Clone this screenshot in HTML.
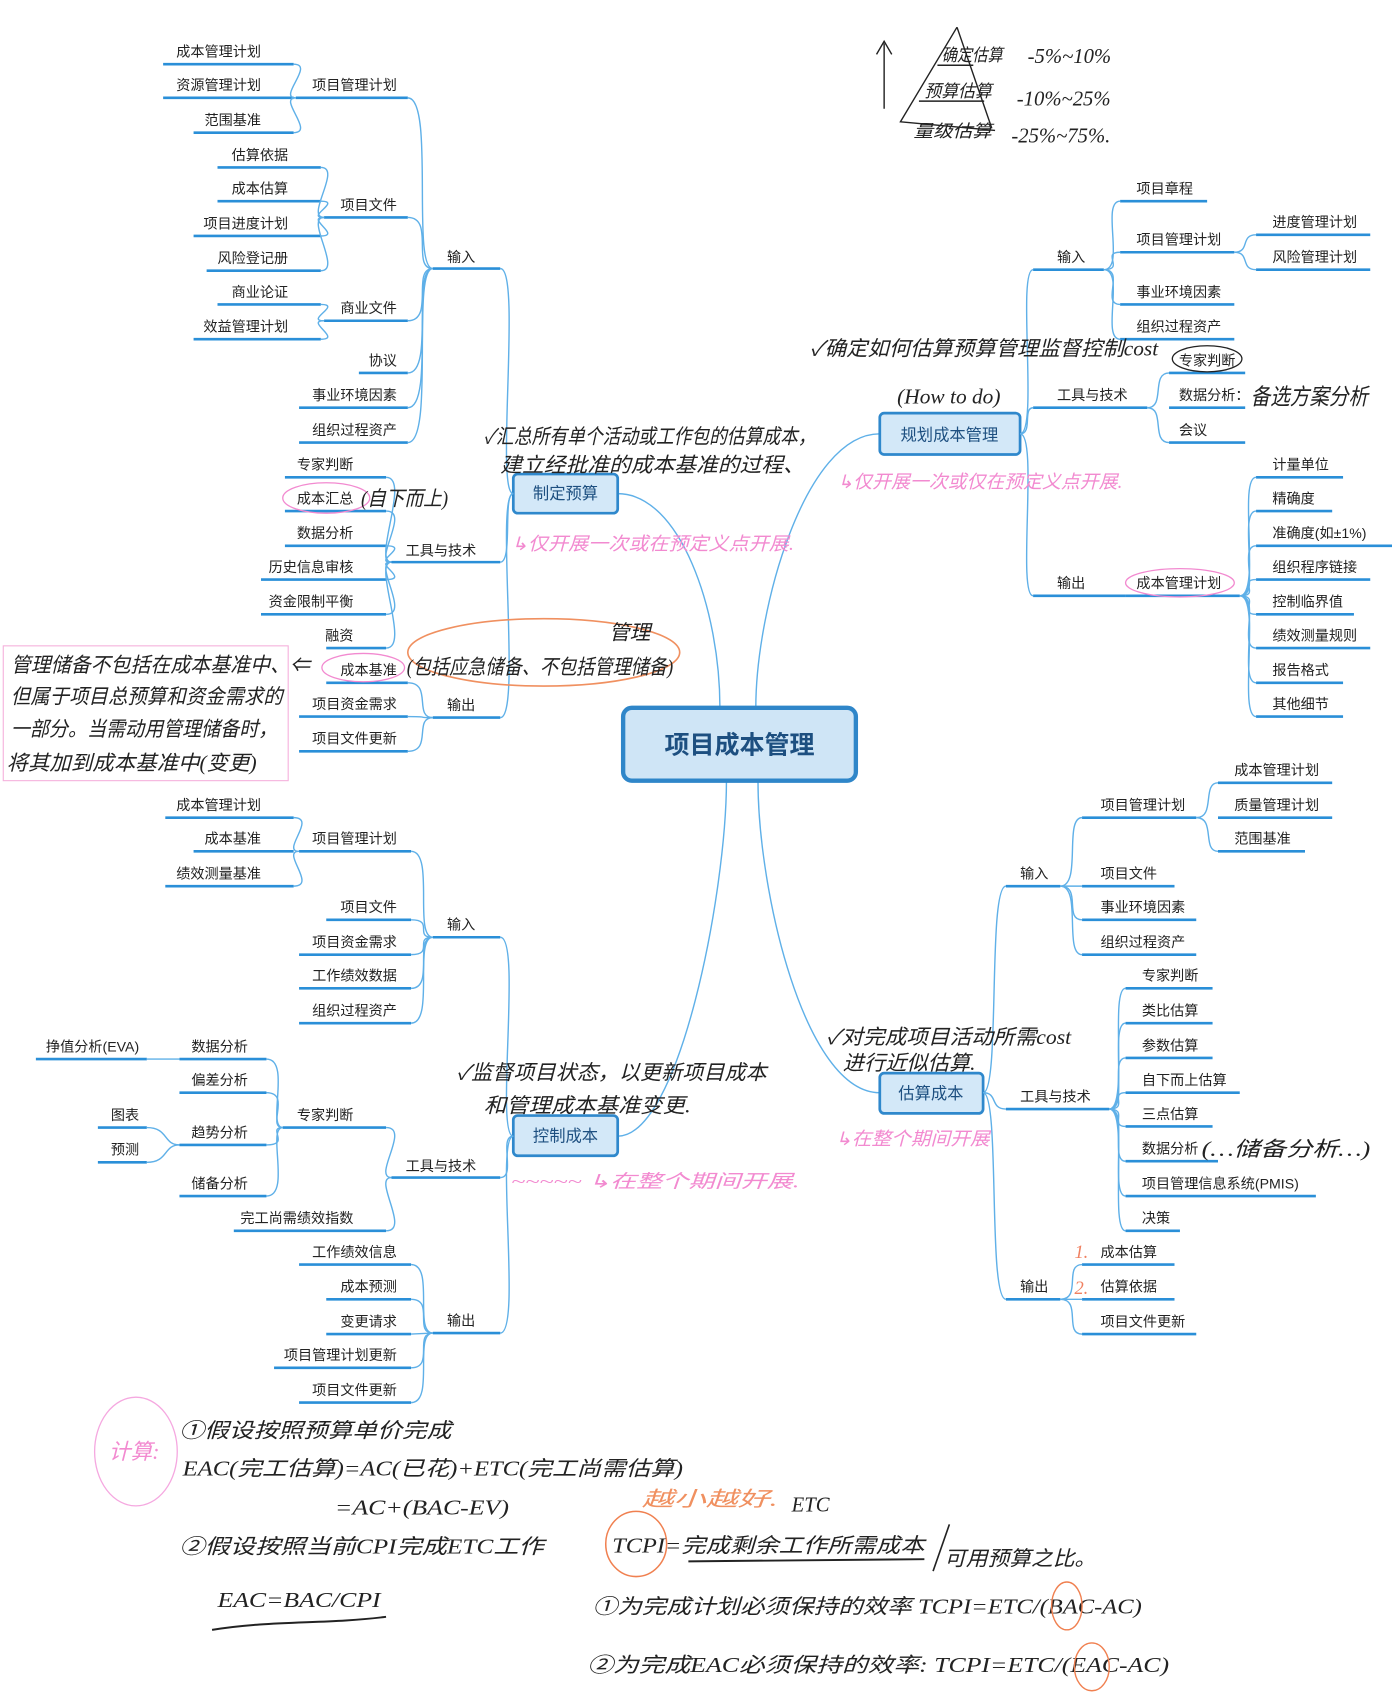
<!DOCTYPE html>
<html><head><meta charset="utf-8">
<style>
html,body{margin:0;padding:0;background:#fff;}
svg{display:block}
.t{font-family:"Liberation Sans","Noto Sans CJK SC",sans-serif;font-size:13px;fill:#222}
.e{text-anchor:end}
.u{stroke:#2a8fd8;stroke-width:2.4;fill:none}
.c{stroke:#5fb0e8;stroke-width:1.3;fill:none}
.h{font-family:"Liberation Serif","WenQuanYi Zen Hei",serif;font-size:19px;fill:#222;font-style:italic}
.p{font-family:"Liberation Serif","WenQuanYi Zen Hei",serif;font-size:17px;fill:#f28ad0;font-style:italic}
.nb{fill:#d3e8f8;stroke:#2f88cc;stroke-width:2.5}
.nt{font-family:"Liberation Sans","Noto Sans CJK SC",sans-serif;font-size:15px;fill:#1d4f80;text-anchor:middle}
</style></head><body>
<svg width="1392" height="1694" viewBox="0 0 1280 1558" preserveAspectRatio="none" xmlns="http://www.w3.org/2000/svg">
<rect width="1280" height="1558" fill="#fff"/>

<!-- ========== center ========== -->
<path class="c" d="M568,454 C625,454 662,560 662,651"/>
<path class="c" d="M809,399 C740,399 695,560 695,651"/>
<path class="c" d="M568,1045 C625,1045 668,820 668,718"/>
<path class="c" d="M809,1005 C740,1005 697,820 697,718"/>
<rect x="573" y="651" width="214" height="67" rx="8" fill="#cfe5f6" stroke="#2f86c9" stroke-width="4"/>
<text x="680" y="693" style="font-family:'Liberation Sans','Noto Sans CJK SC',sans-serif;font-size:23px;font-weight:bold;fill:#1d4f80;text-anchor:middle">项目成本管理</text>

<!-- ========== 制定预算 (top-left) ========== -->
<rect class="nb" x="472" y="436" width="96" height="36" rx="4"/>
<text class="nt" x="520" y="459">制定预算</text>
<path class="c" d="M460,247 C480,247 455,454 472,454"/>
<path class="c" d="M460,517 C472,517 462,454 472,454"/>
<path class="c" d="M460,660 C480,660 455,454 472,454"/>
<text class="t" x="411" y="241">输入</text><line class="u" x1="398" y1="247" x2="460" y2="247"/>
<text class="t" x="373" y="511">工具与技术</text><line class="u" x1="360" y1="517" x2="460" y2="517"/>
<text class="t" x="411" y="653">输出</text><line class="u" x1="398" y1="660" x2="460" y2="660"/>
<text class="t e" x="365" y="83">项目管理计划</text><line class="u" x1="272" y1="90" x2="375" y2="90"/>
<text class="t e" x="365" y="193">项目文件</text><line class="u" x1="298" y1="200" x2="375" y2="200"/>
<text class="t e" x="365" y="288">商业文件</text><line class="u" x1="298" y1="295" x2="375" y2="295"/>
<text class="t e" x="365" y="336">协议</text><line class="u" x1="330" y1="343" x2="375" y2="343"/>
<text class="t e" x="365" y="368">事业环境因素</text><line class="u" x1="275" y1="375" x2="375" y2="375"/>
<text class="t e" x="365" y="400">组织过程资产</text><line class="u" x1="275" y1="407" x2="375" y2="407"/>
<path class="c" d="M375,90 C400,90 378,247 398,247"/>
<path class="c" d="M375,200 C400,200 378,247 398,247"/>
<path class="c" d="M375,295 C400,295 378,247 398,247"/>
<path class="c" d="M375,343 C400,343 378,247 398,247"/>
<path class="c" d="M375,375 C400,375 378,247 398,247"/>
<path class="c" d="M375,407 C400,407 378,247 398,247"/>
<text class="t e" x="240" y="52">成本管理计划</text><line class="u" x1="150" y1="59" x2="270" y2="59"/>
<text class="t e" x="240" y="83">资源管理计划</text><line class="u" x1="150" y1="90" x2="270" y2="90"/>
<text class="t e" x="240" y="115">范围基准</text><line class="u" x1="178" y1="122" x2="270" y2="122"/>
<path class="c" d="M270,59 C290,59 255,90 272,90"/><path class="c" d="M270,122 C290,122 255,90 272,90"/>
<text class="t e" x="265" y="147">估算依据</text><line class="u" x1="200" y1="154" x2="295" y2="154"/>
<text class="t e" x="265" y="178">成本估算</text><line class="u" x1="200" y1="185" x2="295" y2="185"/>
<text class="t e" x="265" y="210">项目进度计划</text><line class="u" x1="178" y1="217" x2="295" y2="217"/>
<text class="t e" x="265" y="242">风险登记册</text><line class="u" x1="190" y1="249" x2="295" y2="249"/>
<path class="c" d="M295,154 C315,154 280,200 298,200"/><path class="c" d="M295,185 C315,185 280,200 298,200"/>
<path class="c" d="M295,217 C315,217 280,200 298,200"/><path class="c" d="M295,249 C315,249 280,200 298,200"/>
<text class="t e" x="265" y="273">商业论证</text><line class="u" x1="200" y1="280" x2="295" y2="280"/>
<text class="t e" x="265" y="305">效益管理计划</text><line class="u" x1="178" y1="312" x2="295" y2="312"/>
<path class="c" d="M295,280 C315,280 280,295 298,295"/><path class="c" d="M295,312 C315,312 280,295 298,295"/>
<text class="t e" x="325" y="432">专家判断</text><line class="u" x1="262" y1="439" x2="355" y2="439"/>
<text class="t e" x="325" y="463">成本汇总</text><line class="u" x1="262" y1="470" x2="355" y2="470"/>
<text class="t e" x="325" y="495">数据分析</text><line class="u" x1="262" y1="502" x2="355" y2="502"/>
<text class="t e" x="325" y="526">历史信息审核</text><line class="u" x1="240" y1="533" x2="355" y2="533"/>
<text class="t e" x="325" y="558">资金限制平衡</text><line class="u" x1="240" y1="565" x2="355" y2="565"/>
<text class="t e" x="325" y="589">融资</text><line class="u" x1="300" y1="596" x2="355" y2="596"/>
<path class="c" d="M355,439 C378,439 342,517 360,517"/><path class="c" d="M355,470 C378,470 342,517 360,517"/>
<path class="c" d="M355,502 C378,502 342,517 360,517"/><path class="c" d="M355,533 C378,533 342,517 360,517"/>
<path class="c" d="M355,565 C378,565 342,517 360,517"/><path class="c" d="M355,596 C378,596 342,517 360,517"/>
<ellipse cx="300" cy="458" rx="40" ry="14" fill="none" stroke="#f28ad0" stroke-width="1.2"/>
<text class="h" x="332" y="465" textLength="80" lengthAdjust="spacingAndGlyphs">(自下而上)</text>
<text class="t e" x="365" y="621">成本基准</text><line class="u" x1="300" y1="628" x2="375" y2="628"/>
<text class="t e" x="365" y="652">项目资金需求</text><line class="u" x1="275" y1="659" x2="375" y2="659"/>
<text class="t e" x="365" y="684">项目文件更新</text><line class="u" x1="275" y1="691" x2="375" y2="691"/>
<path class="c" d="M375,628 C398,628 380,660 398,660"/><path class="c" d="M375,659 C398,659 380,660 398,660"/><path class="c" d="M375,691 C398,691 380,660 398,660"/>
<ellipse cx="334" cy="614" rx="38" ry="13" fill="none" stroke="#f28ad0" stroke-width="1.2"/>
<ellipse cx="500" cy="600" rx="125" ry="31" fill="none" stroke="#f09060" stroke-width="1.5"/>
<text class="h" x="374" y="620" textLength="245" lengthAdjust="spacingAndGlyphs">(包括应急储备、不包括管理储备)</text>
<text class="h" x="560" y="588">管理</text>
<rect x="3" y="594" width="262" height="124" fill="none" stroke="#f5b0dc" stroke-width="1"/>
<text class="h" x="10" y="618" textLength="275" lengthAdjust="spacingAndGlyphs">管理储备不包括在成本基准中、⇐</text>
<text class="h" x="10" y="647" textLength="250" lengthAdjust="spacingAndGlyphs">但属于项目总预算和资金需求的</text>
<text class="h" x="10" y="677" textLength="245" lengthAdjust="spacingAndGlyphs">一部分。当需动用管理储备时，</text>
<text class="h" x="6" y="708" textLength="230" lengthAdjust="spacingAndGlyphs">将其加到成本基准中(变更)</text>
<text class="h" x="445" y="408" textLength="305" lengthAdjust="spacingAndGlyphs">✓汇总所有单个活动或工作包的估算成本，</text>
<text class="h" x="460" y="434" textLength="280" lengthAdjust="spacingAndGlyphs">建立经批准的成本基准的过程、</text>
<text class="p" x="470" y="506" textLength="260" lengthAdjust="spacingAndGlyphs">↳仅开展一次或在预定义点开展.</text>

<!-- ========== 控制成本 (bottom-left) ========== -->
<rect class="nb" x="472" y="1026" width="96" height="37" rx="4"/>
<text class="nt" x="520" y="1050">控制成本</text>
<path class="c" d="M460,862 C480,862 455,1045 472,1045"/>
<path class="c" d="M460,1083 C475,1083 458,1045 472,1045"/>
<path class="c" d="M460,1226 C480,1226 455,1045 472,1045"/>
<text class="t" x="411" y="855">输入</text><line class="u" x1="398" y1="862" x2="460" y2="862"/>
<text class="t" x="373" y="1077">工具与技术</text><line class="u" x1="360" y1="1083" x2="460" y2="1083"/>
<text class="t" x="411" y="1219">输出</text><line class="u" x1="398" y1="1226" x2="460" y2="1226"/>
<text class="t e" x="365" y="776">项目管理计划</text><line class="u" x1="275" y1="783" x2="378" y2="783"/>
<text class="t e" x="365" y="839">项目文件</text><line class="u" x1="300" y1="846" x2="378" y2="846"/>
<text class="t e" x="365" y="871">项目资金需求</text><line class="u" x1="275" y1="878" x2="378" y2="878"/>
<text class="t e" x="365" y="902">工作绩效数据</text><line class="u" x1="275" y1="909" x2="378" y2="909"/>
<text class="t e" x="365" y="934">组织过程资产</text><line class="u" x1="275" y1="941" x2="378" y2="941"/>
<path class="c" d="M378,783 C400,783 380,862 398,862"/><path class="c" d="M378,846 C400,846 380,862 398,862"/>
<path class="c" d="M378,878 C400,878 380,862 398,862"/><path class="c" d="M378,909 C400,909 380,862 398,862"/>
<path class="c" d="M378,941 C400,941 380,862 398,862"/>
<text class="t e" x="240" y="745">成本管理计划</text><line class="u" x1="152" y1="752" x2="270" y2="752"/>
<text class="t e" x="240" y="776">成本基准</text><line class="u" x1="178" y1="783" x2="270" y2="783"/>
<text class="t e" x="240" y="808">绩效测量基准</text><line class="u" x1="152" y1="815" x2="270" y2="815"/>
<path class="c" d="M270,752 C292,752 258,783 275,783"/><path class="c" d="M270,815 C292,815 258,783 275,783"/>
<text class="t e" x="325" y="1030">专家判断</text><line class="u" x1="260" y1="1037" x2="355" y2="1037"/>
<text class="t e" x="325" y="1125">完工尚需绩效指数</text><line class="u" x1="215" y1="1132" x2="355" y2="1132"/>
<path class="c" d="M355,1037 C378,1037 342,1083 360,1083"/><path class="c" d="M355,1132 C378,1132 342,1083 360,1083"/>
<text class="t e" x="228" y="967">数据分析</text><line class="u" x1="165" y1="974" x2="245" y2="974"/>
<text class="t e" x="228" y="998">偏差分析</text><line class="u" x1="165" y1="1005" x2="245" y2="1005"/>
<text class="t e" x="228" y="1046">趋势分析</text><line class="u" x1="165" y1="1053" x2="245" y2="1053"/>
<text class="t e" x="228" y="1093">储备分析</text><line class="u" x1="165" y1="1100" x2="245" y2="1100"/>
<path class="c" d="M245,974 C268,974 245,1037 260,1037"/><path class="c" d="M245,1005 C268,1005 245,1037 260,1037"/>
<path class="c" d="M245,1053 C268,1053 245,1037 260,1037"/><path class="c" d="M245,1100 C268,1100 245,1037 260,1037"/>
<text class="t e" x="128" y="967">挣值分析(EVA)</text><line class="u" x1="33" y1="974" x2="135" y2="974"/>
<path class="c" d="M135,974 L165,974"/>
<text class="t e" x="128" y="1030">图表</text><line class="u" x1="90" y1="1037" x2="135" y2="1037"/>
<text class="t e" x="128" y="1062">预测</text><line class="u" x1="90" y1="1069" x2="135" y2="1069"/>
<path class="c" d="M135,1037 C155,1037 150,1053 165,1053"/><path class="c" d="M135,1069 C155,1069 150,1053 165,1053"/>
<text class="t e" x="365" y="1156">工作绩效信息</text><line class="u" x1="275" y1="1163" x2="378" y2="1163"/>
<text class="t e" x="365" y="1188">成本预测</text><line class="u" x1="300" y1="1195" x2="378" y2="1195"/>
<text class="t e" x="365" y="1220">变更请求</text><line class="u" x1="300" y1="1227" x2="378" y2="1227"/>
<text class="t e" x="365" y="1251">项目管理计划更新</text><line class="u" x1="252" y1="1258" x2="378" y2="1258"/>
<text class="t e" x="365" y="1283">项目文件更新</text><line class="u" x1="275" y1="1290" x2="378" y2="1290"/>
<path class="c" d="M378,1163 C400,1163 380,1226 398,1226"/><path class="c" d="M378,1195 C400,1195 380,1226 398,1226"/>
<path class="c" d="M378,1227 L398,1226"/><path class="c" d="M378,1258 C400,1258 380,1226 398,1226"/>
<path class="c" d="M378,1290 C400,1290 380,1226 398,1226"/>
<text class="h" x="420" y="993" textLength="285" lengthAdjust="spacingAndGlyphs">✓监督项目状态，以更新项目成本</text>
<text class="h" x="445" y="1023" textLength="190" lengthAdjust="spacingAndGlyphs">和管理成本基准变更.</text>
<text class="p" x="470" y="1092" textLength="265" lengthAdjust="spacingAndGlyphs">~~~~~ ↳在整个期间开展.</text>

<!-- ========== 规划成本管理 (top-right) ========== -->
<rect class="nb" x="809" y="380" width="129" height="38" rx="4"/>
<text class="nt" x="873" y="405">规划成本管理</text>
<path class="c" d="M938,399 C955,399 935,248 950,248"/>
<path class="c" d="M938,399 C950,399 940,375 950,375"/>
<path class="c" d="M938,399 C955,399 935,548 950,548"/>
<text class="t" x="972" y="241">输入</text><line class="u" x1="950" y1="248" x2="1015" y2="248"/>
<text class="t" x="972" y="368">工具与技术</text><line class="u" x1="950" y1="375" x2="1055" y2="375"/>
<text class="t" x="972" y="541">输出</text><line class="u" x1="950" y1="548" x2="1035" y2="548"/>
<text class="t" x="1045" y="178">项目章程</text><line class="u" x1="1030" y1="185" x2="1110" y2="185"/>
<text class="t" x="1045" y="225">项目管理计划</text><line class="u" x1="1030" y1="232" x2="1135" y2="232"/>
<text class="t" x="1045" y="273">事业环境因素</text><line class="u" x1="1030" y1="280" x2="1135" y2="280"/>
<text class="t" x="1045" y="305">组织过程资产</text><line class="u" x1="1030" y1="312" x2="1135" y2="312"/>
<path class="c" d="M1015,248 C1035,248 1012,185 1030,185"/><path class="c" d="M1015,248 C1035,248 1012,232 1030,232"/>
<path class="c" d="M1015,248 C1035,248 1012,280 1030,280"/><path class="c" d="M1015,248 C1035,248 1012,312 1030,312"/>
<text class="t" x="1170" y="209">进度管理计划</text><line class="u" x1="1155" y1="216" x2="1260" y2="216"/>
<text class="t" x="1170" y="241">风险管理计划</text><line class="u" x1="1155" y1="248" x2="1260" y2="248"/>
<path class="c" d="M1135,232 C1150,232 1140,216 1155,216"/><path class="c" d="M1135,232 C1150,232 1140,248 1155,248"/>
<text class="t" x="1084" y="336">专家判断</text><line class="u" x1="1075" y1="343" x2="1145" y2="343"/>
<text class="t" x="1084" y="368">数据分析：</text><line class="u" x1="1075" y1="375" x2="1145" y2="375"/>
<text class="t" x="1084" y="400">会议</text><line class="u" x1="1075" y1="407" x2="1145" y2="407"/>
<path class="c" d="M1055,375 C1072,375 1058,343 1075,343"/><path class="c" d="M1055,375 C1072,375 1058,407 1075,407"/>
<ellipse cx="1110" cy="330" rx="32" ry="12" fill="none" stroke="#222" stroke-width="1.2"/>
<text class="h" x="1150" y="372" textLength="108" lengthAdjust="spacingAndGlyphs" style="font-size:21px">备选方案分析</text>
<text class="t" x="1045" y="541">成本管理计划</text><line class="u" x1="1035" y1="548" x2="1140" y2="548"/>
<ellipse cx="1085" cy="536" rx="50" ry="13" fill="none" stroke="#f28ad0" stroke-width="1.2"/>
<text class="t" x="1170" y="432">计量单位</text><line class="u" x1="1155" y1="439" x2="1235" y2="439"/>
<text class="t" x="1170" y="463">精确度</text><line class="u" x1="1155" y1="470" x2="1225" y2="470"/>
<text class="t" x="1170" y="495">准确度(如±1%)</text><line class="u" x1="1155" y1="502" x2="1280" y2="502"/>
<text class="t" x="1170" y="526">组织程序链接</text><line class="u" x1="1155" y1="533" x2="1260" y2="533"/>
<text class="t" x="1170" y="558">控制临界值</text><line class="u" x1="1155" y1="565" x2="1245" y2="565"/>
<text class="t" x="1170" y="589">绩效测量规则</text><line class="u" x1="1155" y1="596" x2="1260" y2="596"/>
<text class="t" x="1170" y="621">报告格式</text><line class="u" x1="1155" y1="628" x2="1235" y2="628"/>
<text class="t" x="1170" y="652">其他细节</text><line class="u" x1="1155" y1="659" x2="1235" y2="659"/>
<path class="c" d="M1140,548 C1160,548 1138,439 1155,439"/><path class="c" d="M1140,548 C1160,548 1138,470 1155,470"/>
<path class="c" d="M1140,548 C1160,548 1138,502 1155,502"/><path class="c" d="M1140,548 C1160,548 1138,533 1155,533"/>
<path class="c" d="M1140,548 C1160,548 1138,565 1155,565"/><path class="c" d="M1140,548 C1160,548 1138,596 1155,596"/>
<path class="c" d="M1140,548 C1160,548 1138,628 1155,628"/><path class="c" d="M1140,548 C1160,548 1138,659 1155,659"/>
<text class="h" x="745" y="327" textLength="320" lengthAdjust="spacingAndGlyphs">✓确定如何估算预算管理监督控制cost</text>
<text class="h" x="825" y="371" textLength="95" lengthAdjust="spacingAndGlyphs">(How to do)</text>
<text class="p" x="770" y="449" textLength="262" lengthAdjust="spacingAndGlyphs">↳仅开展一次或仅在预定义点开展.</text>
<!-- pyramid -->
<path d="M813,100 L813,40 M806,50 L813,38 L820,50" fill="none" stroke="#222" stroke-width="1.3"/>
<path d="M880,25 L828,112 L915,120 M880,25 L912,118 M862,60 L895,60 M845,93 L905,93" fill="none" stroke="#222" stroke-width="1.3"/>
<text class="h" x="866" y="56" textLength="56" lengthAdjust="spacingAndGlyphs" style="font-size:16px">确定估算</text>
<text class="h" x="945" y="58">-5%~10%</text>
<text class="h" x="850" y="89" textLength="62" lengthAdjust="spacingAndGlyphs" style="font-size:16px">预算估算</text>
<text class="h" x="935" y="97">-10%~25%</text>
<text class="h" x="840" y="126" textLength="72" lengthAdjust="spacingAndGlyphs" style="font-size:16px">量级估算</text>
<text class="h" x="930" y="131">-25%~75%.</text>

<!-- ========== 估算成本 (bottom-right) ========== -->
<rect class="nb" x="809" y="987" width="95" height="37" rx="4"/>
<text class="nt" x="856" y="1011">估算成本</text>
<path class="c" d="M904,1005 C920,1005 908,815 925,815"/>
<path class="c" d="M904,1005 C918,1005 910,1020 925,1020"/>
<path class="c" d="M904,1005 C920,1005 908,1195 925,1195"/>
<text class="t" x="938" y="808">输入</text><line class="u" x1="925" y1="815" x2="975" y2="815"/>
<text class="t" x="938" y="1013">工具与技术</text><line class="u" x1="925" y1="1020" x2="1020" y2="1020"/>
<text class="t" x="938" y="1188">输出</text><line class="u" x1="925" y1="1195" x2="975" y2="1195"/>
<text class="t" x="1012" y="745">项目管理计划</text><line class="u" x1="995" y1="752" x2="1100" y2="752"/>
<text class="t" x="1012" y="808">项目文件</text><line class="u" x1="995" y1="815" x2="1080" y2="815"/>
<text class="t" x="1012" y="839">事业环境因素</text><line class="u" x1="995" y1="846" x2="1100" y2="846"/>
<text class="t" x="1012" y="871">组织过程资产</text><line class="u" x1="995" y1="878" x2="1100" y2="878"/>
<path class="c" d="M975,815 C995,815 978,752 995,752"/><path class="c" d="M975,815 L995,815"/>
<path class="c" d="M975,815 C995,815 978,846 995,846"/><path class="c" d="M975,815 C995,815 978,878 995,878"/>
<text class="t" x="1135" y="713">成本管理计划</text><line class="u" x1="1120" y1="720" x2="1225" y2="720"/>
<text class="t" x="1135" y="745">质量管理计划</text><line class="u" x1="1120" y1="752" x2="1225" y2="752"/>
<text class="t" x="1135" y="776">范围基准</text><line class="u" x1="1120" y1="783" x2="1200" y2="783"/>
<path class="c" d="M1100,752 C1118,752 1105,720 1120,720"/><path class="c" d="M1100,752 C1118,752 1105,783 1120,783"/>
<text class="t" x="1050" y="902">专家判断</text><line class="u" x1="1035" y1="909" x2="1115" y2="909"/>
<text class="t" x="1050" y="934">类比估算</text><line class="u" x1="1035" y1="941" x2="1115" y2="941"/>
<text class="t" x="1050" y="966">参数估算</text><line class="u" x1="1035" y1="973" x2="1115" y2="973"/>
<text class="t" x="1050" y="998">自下而上估算</text><line class="u" x1="1035" y1="1005" x2="1140" y2="1005"/>
<text class="t" x="1050" y="1029">三点估算</text><line class="u" x1="1035" y1="1036" x2="1115" y2="1036"/>
<text class="t" x="1050" y="1061">数据分析</text><line class="u" x1="1035" y1="1068" x2="1120" y2="1068"/>
<text class="t" x="1050" y="1093">项目管理信息系统(PMIS)</text><line class="u" x1="1035" y1="1100" x2="1210" y2="1100"/>
<text class="t" x="1050" y="1125">决策</text><line class="u" x1="1035" y1="1132" x2="1085" y2="1132"/>
<path class="c" d="M1020,1020 C1038,1020 1020,909 1035,909"/><path class="c" d="M1020,1020 C1038,1020 1020,941 1035,941"/>
<path class="c" d="M1020,1020 C1038,1020 1020,973 1035,973"/><path class="c" d="M1020,1020 C1038,1020 1020,1005 1035,1005"/>
<path class="c" d="M1020,1020 C1038,1020 1020,1036 1035,1036"/><path class="c" d="M1020,1020 C1038,1020 1020,1068 1035,1068"/>
<path class="c" d="M1020,1020 C1038,1020 1020,1100 1035,1100"/><path class="c" d="M1020,1020 C1038,1020 1020,1132 1035,1132"/>
<text class="h" x="1105" y="1063" textLength="155" lengthAdjust="spacingAndGlyphs">(…储备分析…)</text>
<text class="t" x="1012" y="1156">成本估算</text><line class="u" x1="995" y1="1163" x2="1080" y2="1163"/>
<text class="t" x="1012" y="1188">估算依据</text><line class="u" x1="995" y1="1195" x2="1080" y2="1195"/>
<text class="t" x="1012" y="1220">项目文件更新</text><line class="u" x1="995" y1="1227" x2="1100" y2="1227"/>
<path class="c" d="M975,1195 C995,1195 978,1163 995,1163"/><path class="c" d="M975,1195 L995,1195"/>
<path class="c" d="M975,1195 C995,1195 978,1227 995,1227"/>
<text class="p" x="988" y="1157" style="fill:#f08060">1.</text>
<text class="p" x="988" y="1190" style="fill:#f08060">2.</text>
<text class="h" x="760" y="960" textLength="225" lengthAdjust="spacingAndGlyphs">✓对完成项目活动所需cost</text>
<text class="h" x="775" y="984" textLength="122" lengthAdjust="spacingAndGlyphs">进行近似估算.</text>
<text class="p" x="768" y="1053" textLength="142" lengthAdjust="spacingAndGlyphs">↳在整个期间开展</text>

<!-- ========== bottom formulas ========== -->
<ellipse cx="125" cy="1335" rx="38" ry="50" fill="none" stroke="#f5a8e0" stroke-width="1.2"/>
<text class="p" x="100" y="1342" style="font-size:20px">计算:</text>
<text class="h" x="165" y="1322" textLength="250" lengthAdjust="spacingAndGlyphs">①假设按照预算单价完成</text>
<text class="h" x="168" y="1357" textLength="460" lengthAdjust="spacingAndGlyphs">EAC(完工估算)=AC(已花)+ETC(完工尚需估算)</text>
<text class="h" x="308" y="1393" textLength="160" lengthAdjust="spacingAndGlyphs">=AC+(BAC-EV)</text>
<text class="h" x="165" y="1429" textLength="335" lengthAdjust="spacingAndGlyphs">②假设按照当前CPI完成ETC工作</text>
<text class="h" x="200" y="1478" textLength="150" lengthAdjust="spacingAndGlyphs">EAC=BAC/CPI</text>
<path d="M195,1499 C250,1490 300,1494 355,1487" fill="none" stroke="#222" stroke-width="1.8"/>
<text class="p" x="590" y="1385" style="fill:#f09060;font-size:19px" textLength="125" lengthAdjust="spacingAndGlyphs">越小越好.</text>
<text class="h" x="728" y="1390">ETC</text>
<ellipse cx="585" cy="1420" rx="28" ry="30" fill="none" stroke="#f08050" stroke-width="1.4"/>
<text class="h" x="563" y="1428" textLength="287" lengthAdjust="spacingAndGlyphs">TCPI=完成剩余工作所需成本</text>
<path d="M633,1436 L850,1434" fill="none" stroke="#222" stroke-width="1.8"/>
<path d="M873,1402 L858,1445" fill="none" stroke="#222" stroke-width="1.5"/>
<text class="h" x="868" y="1440" textLength="140" lengthAdjust="spacingAndGlyphs">可用预算之比。</text>
<text class="h" x="545" y="1484" textLength="505" lengthAdjust="spacingAndGlyphs">①为完成计划必须保持的效率 TCPI=ETC/(BAC-AC)</text>
<ellipse cx="981" cy="1477" rx="14" ry="22" fill="none" stroke="#f08050" stroke-width="1.3"/>
<text class="h" x="540" y="1538" textLength="535" lengthAdjust="spacingAndGlyphs">②为完成EAC必须保持的效率: TCPI=ETC/(EAC-AC)</text>
<ellipse cx="1004" cy="1533" rx="16" ry="22" fill="none" stroke="#f08050" stroke-width="1.3"/>
</svg>
</body></html>
